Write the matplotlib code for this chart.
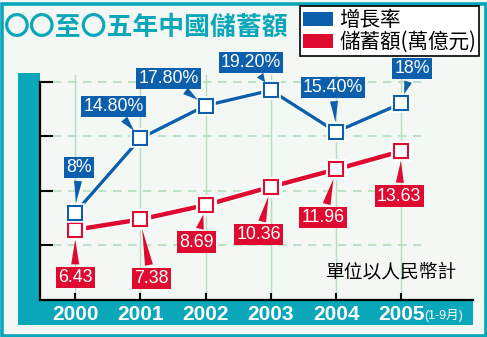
import matplotlib as mpl
import matplotlib.pyplot as plt
import matplotlib.patheffects as pe
from matplotlib.patches import Rectangle, Patch

mpl.rcParams.update(
    {
        "font.family": ["Liberation Sans", "Noto Sans CJK TC", "DejaVu Sans"],
        "axes.unicode_minus": False,
    }
)

# ---- data ----
years = [2000, 2001, 2002, 2003, 2004, 2005]
year_labels = ["2000", "2001", "2002", "2003", "2004", "2005"]
growth = [8.0, 14.8, 17.8, 19.2, 15.4, 18.0]
growth_labels = ["8%", "14.80%", "17.80%", "19.20%", "15.40%", "18%"]
savings = [6.43, 7.38, 8.69, 10.36, 11.96, 13.63]
savings_labels = ["6.43", "7.38", "8.69", "10.36", "11.96", "13.63"]
y_ticks = [5, 10, 15, 20]

title = "〇〇至〇五年中國儲蓄額"
legend_labels = ["增長率", "儲蓄額(萬億元)"]
unit_note = "單位以人民幣計"
last_note = "(1-9月)"

# ---- style ----
TEAL = "#0AA6B9"
BLUE = "#0B5FAD"
RED = "#DE0A30"
BG = "#F3F8F4"
GRID = "#B5DEBC"
CJK = ["Noto Sans CJK TC", "DejaVu Sans"]

W, H = 487, 337
# label offsets (pixels, x right / y up) from each marker
blue_off = [(4, 45), (-27, 32), (-37, 27), (-20, 28), (-3, 44), (11, 35)]
red_off = [(0, -48), (11, -59), (-9, -37), (-12, -48), (-13, -48), (-2, -45)]

fig = plt.figure(figsize=(W / 100, H / 100), dpi=100)
fig.patch.set_facecolor(BG)


def fx(p):
    return p / W


def fy(p):
    return 1 - p / H


# frame pieces (behind the axes)
for r in [
    Rectangle((fx(1.5), fy(335.5)), fx(484), 332 / H, fc="none", ec=TEAL, lw=2.6),
    Rectangle((fx(18), fy(325)), fx(22), 252 / H, fc=TEAL, ec="none"),
    Rectangle((fx(18), fy(325)), fx(455), 25 / H, fc=TEAL, ec="none"),
]:
    r.set_transform(fig.transFigure)
    r.set_zorder(-1)
    fig.patches.append(r)

ax = fig.add_axes([fx(40), fy(300), fx(433), 225 / H])
ax.set_facecolor("none")
ax.set_xlim(1999.46, 2006.1)
ax.set_ylim(0, 20.6)

# grid
for y in y_ticks:
    ax.plot([1999.66, 2005.37], [y, y], color=GRID, lw=1.2, ls=(0, (5, 4)), zorder=1)
for x in years:
    ax.axvline(x, color=GRID, lw=1, zorder=1)

ax.plot(years, savings, color=RED, lw=3.2, marker="s", ms=10, mfc="white", mec=RED,
        mew=1.5, zorder=4,
        path_effects=[pe.Stroke(linewidth=5.2, foreground="white"), pe.Normal()])
ax.plot(years, growth, color=BLUE, lw=2.4, marker="s", ms=10, mfc="white", mec=BLUE,
        mew=1.5, zorder=5,
        path_effects=[pe.Stroke(linewidth=4, foreground="white"), pe.Normal()])


def callout(xv, yv, lab, off, color):
    ax.annotate(lab, (xv, yv), xytext=off, textcoords="offset pixels",
                ha="center", va="center", fontsize=12.8, color="white", zorder=6,
                family="Liberation Sans",
                bbox=dict(boxstyle="square,pad=0.12", fc=color, ec="none"),
                arrowprops=dict(arrowstyle="wedge,tail_width=0.45,shrink_factor=0.5",
                                fc=color, ec="none", shrinkB=7))


for xv, yv, lab, off in zip(years, growth, growth_labels, blue_off):
    callout(xv, yv, lab, off, BLUE)
for xv, yv, lab, off in zip(years, savings, savings_labels, red_off):
    callout(xv, yv, lab, off, RED)

# axes
for s in ["top", "right"]:
    ax.spines[s].set_visible(False)
ax.spines["left"].set_linewidth(1.6)
ax.spines["bottom"].set_linewidth(1.6)
ax.spines["left"].set_bounds(0, 20)
ax.set_yticks(y_ticks)
ax.set_yticklabels([])
ax.tick_params(axis="y", direction="in", length=9.5, width=1.5, color="black")
ax.set_xticks(years)
ax.set_xticklabels(year_labels, fontsize=15, fontweight="bold", color="white",
                   family="Liberation Sans")
ax.tick_params(axis="x", direction="in", length=5, width=1.5, color="black", pad=3.5)

ax.annotate(last_note, (2005, 0), xytext=(23, -15), textcoords="offset pixels",
            ha="left", va="center", fontsize=9, color="white", annotation_clip=False)
ax.text((457 - 40) / 433, (300 - 272) / 225, unit_note, transform=ax.transAxes,
        ha="right", va="center", fontsize=13.5, color="black", family=CJK)

# title
fig.text(fx(4), fy(27), title, ha="left", va="center", fontsize=18.6, fontweight="black",
         color=TEAL, family=CJK)

# legend
handles = [Patch(fc=BLUE, ec="none"), Patch(fc=RED, ec="none")]
leg = fig.legend(handles, legend_labels, loc="upper right", bbox_to_anchor=(fx(479), fy(6)),
                 frameon=True, fancybox=False, framealpha=1, edgecolor="black",
                 borderpad=0.15, handlelength=1.45, handleheight=0.65, handletextpad=0.3,
                 labelspacing=0.0, borderaxespad=0,
                 prop={"family": CJK, "size": 14.8})
leg.get_frame().set_linewidth(1.2)

fig.savefig("out.png", dpi=100, facecolor=BG)
